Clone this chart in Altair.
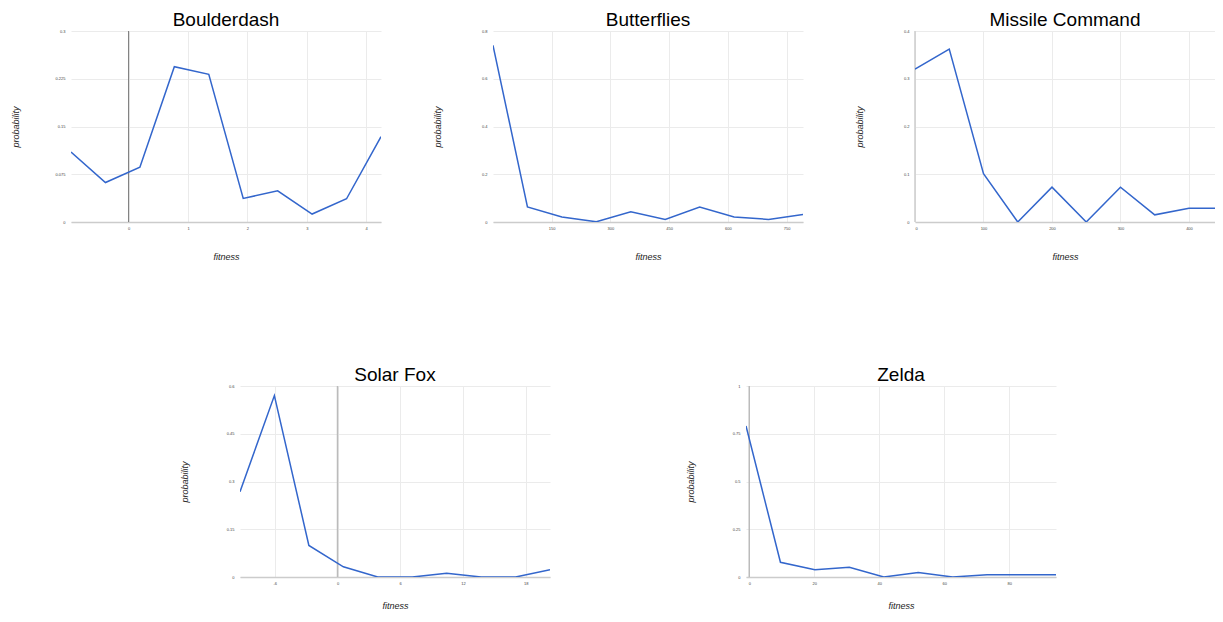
import altair as alt
import pandas as pd

# ---- data ----
bd_x = [-0.97, -0.39, 0.19, 0.77, 1.35, 1.93, 2.51, 3.09, 3.67, 4.25]
bd_y = [0.110, 0.062, 0.086, 0.244, 0.232, 0.037, 0.049, 0.0125, 0.0365, 0.134]

bf_x = [0, 88, 176, 264, 352, 440, 528, 616, 704, 792]
bf_y = [0.740, 0.063, 0.021, 0.001, 0.043, 0.011, 0.063, 0.021, 0.011, 0.031]

mc_x = [0, 50, 100, 150, 200, 250, 300, 350, 400, 450]
mc_y = [0.320, 0.362, 0.101, 0.0, 0.073, 0.0, 0.073, 0.015, 0.029, 0.029]

sf_x = [-9.33, -6.04, -2.74, 0.56, 3.85, 7.15, 10.44, 13.74, 17.04, 20.33]
sf_y = [0.268, 0.570, 0.099, 0.032, 0.0, 0.0, 0.0115, 0.0, 0.0, 0.023]

ze_x = [-1.0, 9.6, 20.2, 30.8, 41.4, 52.0, 62.6, 73.2, 83.8, 94.4]
ze_y = [0.791, 0.077, 0.038, 0.051, 0.0, 0.024, 0.0, 0.012, 0.012, 0.012]

bd_xticks = [0, 1, 2, 3, 4]
bd_yticks = [0, 0.075, 0.15, 0.225, 0.3]
bf_xticks = [150, 300, 450, 600, 750]
bf_yticks = [0, 0.2, 0.4, 0.6, 0.8]
mc_xticks = [0, 100, 200, 300, 400]
mc_yticks = [0, 0.1, 0.2, 0.3, 0.4]
sf_xticks = [-6, 0, 6, 12, 18]
sf_yticks = [0, 0.15, 0.3, 0.45, 0.6]
ze_xticks = [0, 20, 40, 60, 80]
ze_yticks = [0, 0.25, 0.5, 0.75, 1]

FONT = "Liberation Sans"
H = 191


def panel(title, xs, ys, xdom, ydom, xticks, yticks, zero_color=None, zero_width=1.0,
          width=310, xtitle_y=34):
    df = pd.DataFrame({"fitness": xs, "probability": ys})
    xscale = alt.Scale(domain=xdom, nice=False, zero=False)
    yscale = alt.Scale(domain=ydom, nice=False, zero=False)
    xaxis = alt.Axis(
        values=xticks, labelExpr="'' + datum.value", ticks=False,
        labelFontSize=4, labelColor="#444", labelFont=FONT, labelPadding=4,
        domainColor="#cccccc", domainWidth=1.5,
        grid=True, gridColor="#ebebeb", gridWidth=1,
        title="fitness", titleFont=FONT, titleFontSize=9, titleFontStyle="italic",
        titleFontWeight="normal", titleColor="#222", titleY=xtitle_y, titleBaseline="middle",
    )
    yaxis = alt.Axis(
        values=yticks, labelExpr="'' + datum.value", ticks=False, domain=False,
        labelFontSize=4, labelColor="#444", labelFont=FONT, labelPadding=6,
        grid=True, gridColor="#ebebeb", gridWidth=1,
        title="probability", titleFont=FONT, titleFontSize=9, titleFontStyle="italic",
        titleFontWeight="normal", titleColor="#222", titleX=-56, titleBaseline="middle",
        titleAngle=270,
    )
    line = alt.Chart(df).mark_line(color="#3366cc", strokeWidth=1.5, clip=True).encode(
        x=alt.X("fitness:Q", scale=xscale, axis=xaxis),
        y=alt.Y("probability:Q", scale=yscale, axis=yaxis),
    )
    layers = []
    if zero_color is not None:
        zdf = pd.DataFrame({"fitness": [0]})
        zero = alt.Chart(zdf).mark_rule(color=zero_color, strokeWidth=zero_width).encode(
            x=alt.X("fitness:Q", scale=xscale, axis=xaxis)
        )
        layers.append(zero)
    layers.append(line)
    return alt.layer(*layers).properties(
        width=width, height=H,
        title=alt.TitleParams(text=title, font=FONT, fontSize=19, fontWeight="normal",
                              color="#000", offset=-1, anchor="middle"),
    )


p_bd = panel("Boulderdash", bd_x, bd_y, [-0.97, 4.25], [0, 0.3], bd_xticks, bd_yticks, "#777777", 1.0)
p_bf = panel("Butterflies", bf_x, bf_y, [0, 792], [0, 0.8], bf_xticks, bf_yticks)
p_mc = panel("Missile Command", mc_x, mc_y, [0, 438], [0, 0.4], mc_xticks, mc_yticks,
             "#cccccc", 1.5, width=300)
p_sf = panel("Solar Fox", sf_x, sf_y, [-9.33, 20.33], [0, 0.6], sf_xticks, sf_yticks,
             "#bbbbbb", 1.5, xtitle_y=28)
p_ze = panel("Zelda", ze_x, ze_y, [-1.0, 94.4], [0, 1], ze_xticks, ze_yticks,
             "#bbbbbb", 1.5, xtitle_y=28)

# invisible spacer that fixes where the bottom row starts
spacer = alt.Chart(pd.DataFrame({"s": [0]})).mark_rule(opacity=0).encode(
    x=alt.value(0), y=alt.value(0), y2=alt.value(1)
).properties(width=1, height=H)

top = alt.hconcat(p_bd, p_bf, p_mc, spacing=112, bounds="flush")
pair = alt.hconcat(p_sf, p_ze, spacing=196, bounds="flush")
bottom = alt.hconcat(spacer, pair, spacing=168, bounds="flush")

chart = alt.vconcat(top, bottom, spacing=105).properties(
    padding={"left": 3, "top": 3, "right": 0, "bottom": 0},
    background="white",
).configure_view(stroke="transparent", strokeWidth=0)

chart.save("out.html", embed_options={"renderer": "svg", "actions": False})
